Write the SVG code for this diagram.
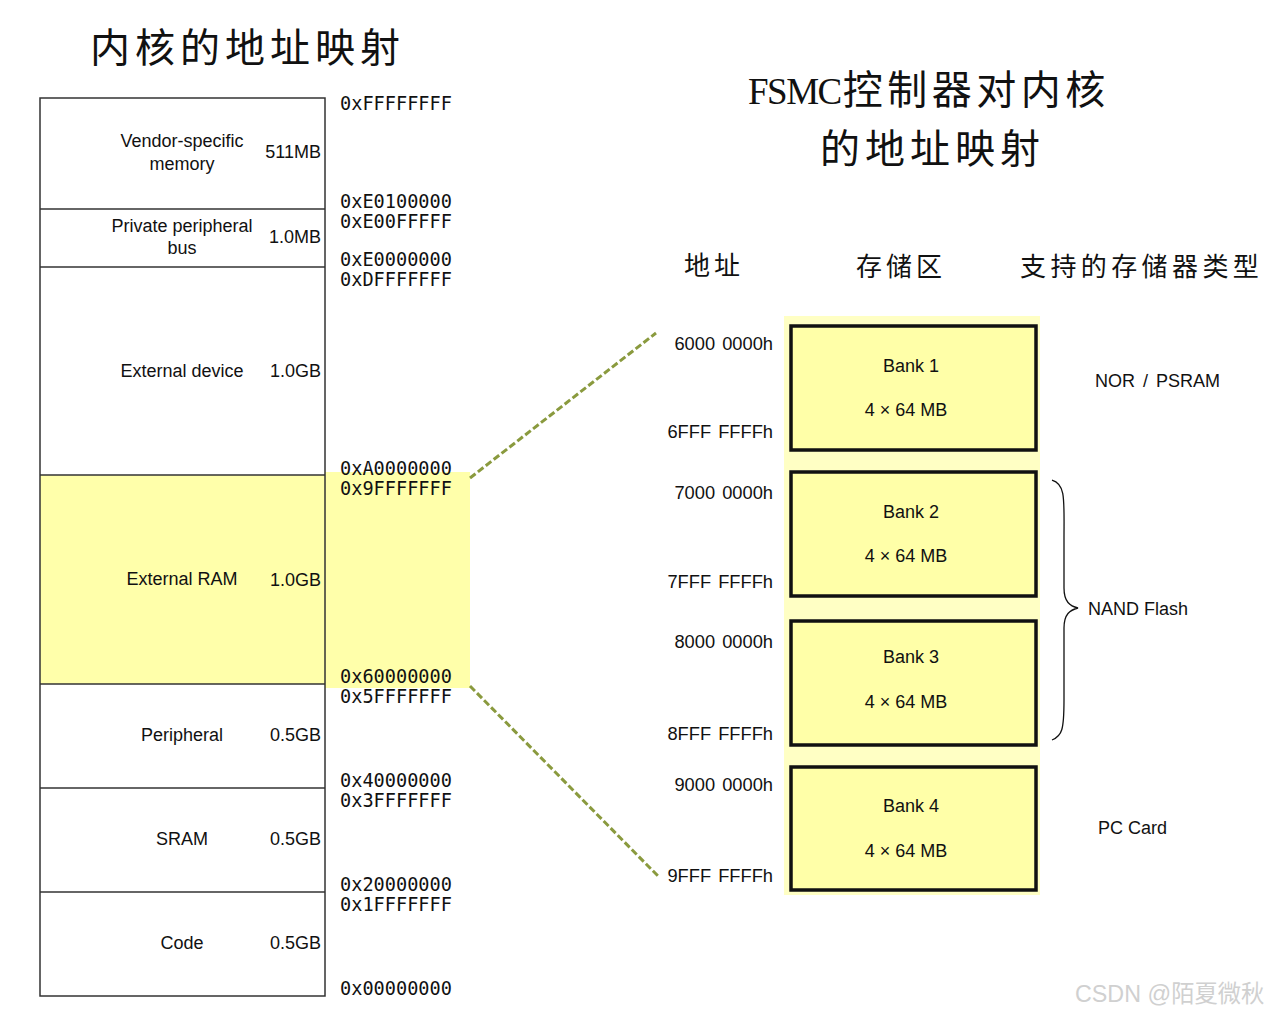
<svg xmlns="http://www.w3.org/2000/svg" width="1268" height="1015" viewBox="0 0 1268 1015">
<style>
.t{font-family:"Liberation Sans",Arial,sans-serif;font-size:18px;fill:#111}
.m{font-family:"DejaVu Sans Mono","Liberation Mono",monospace;font-size:18.6px;fill:#111}
.cjk{font-family:"Noto Sans CJK SC",sans-serif;fill:#111}
.r{text-anchor:end}
.c{text-anchor:middle}
.ra{word-spacing:2px;font-size:18.3px}
.div{stroke:#333;stroke-width:1.3}
.bank{fill:#FFFFA8;stroke:#111;stroke-width:3.5}
.dash{stroke:#8A9A3E;stroke-width:3;stroke-dasharray:7 3;fill:none}
</style>
<rect width="1268" height="1015" fill="#fff"/>

<!-- titles -->
<g id="title-left">
<text class="cjk" x="90" y="62" font-size="40" letter-spacing="5">内核的地址映射</text>
</g>
<g id="title-right">
<text class="cjk" x="748" y="104" font-size="40" letter-spacing="4.5"><tspan font-family="'Liberation Serif',serif" font-size="37" letter-spacing="-1.5">FSMC</tspan><tspan dx="2">控制器对内核</tspan></text>
<text class="cjk" x="820" y="163" font-size="40" letter-spacing="5">的地址映射</text>
</g>
<g id="headers">
<text class="cjk" x="684" y="275" font-size="26" letter-spacing="4">地址</text>
<text class="cjk" x="856" y="276" font-size="26" letter-spacing="4">存储区</text>
<text class="cjk" x="1020" y="276" font-size="26" letter-spacing="4.4">支持的存储器类型</text>
</g>

<!-- left memory map -->
<g id="highlight">
<rect x="40" y="475" width="285" height="209" fill="#FFFFAA"/>
<rect x="325" y="472" width="145" height="216" fill="#FFFFAA"/>
</g>
<g id="memmap">
<rect x="40" y="98" width="285" height="898" fill="none" stroke="#333" stroke-width="1.5"/>
<line class="div" x1="40" y1="209" x2="325" y2="209"/>
<line class="div" x1="40" y1="267" x2="325" y2="267"/>
<line class="div" x1="40" y1="475" x2="325" y2="475"/>
<line class="div" x1="40" y1="684" x2="325" y2="684"/>
<line class="div" x1="40" y1="788" x2="325" y2="788" stroke="#666"/>
<line class="div" x1="40" y1="892" x2="325" y2="892" stroke="#666"/>
</g>
<g id="region-vendor">
<text class="t c" x="182" y="147">Vendor-specific</text>
<text class="t c" x="182" y="170">memory</text>
<text class="t r" x="321" y="158">511MB</text>
</g>
<g id="region-ppb">
<text class="t c" x="182" y="232">Private peripheral</text>
<text class="t c" x="182" y="254">bus</text>
<text class="t r" x="321" y="243">1.0MB</text>
</g>
<g id="region-extdev">
<text class="t c" x="182" y="377">External device</text>
<text class="t r" x="321" y="377">1.0GB</text>
</g>
<g id="region-extram">
<text class="t c" x="182" y="585">External RAM</text>
<text class="t r" x="321" y="586">1.0GB</text>
</g>
<g id="region-periph">
<text class="t c" x="182" y="741">Peripheral</text>
<text class="t r" x="321" y="741">0.5GB</text>
</g>
<g id="region-sram">
<text class="t c" x="182" y="845">SRAM</text>
<text class="t r" x="321" y="845">0.5GB</text>
</g>
<g id="region-code">
<text class="t c" x="182" y="949">Code</text>
<text class="t r" x="321" y="949">0.5GB</text>
</g>
<g id="addresses-left">
<text class="m" x="340" y="110">0xFFFFFFFF</text>
<text class="m" x="340" y="208">0xE0100000</text>
<text class="m" x="340" y="228">0xE00FFFFF</text>
<text class="m" x="340" y="266">0xE0000000</text>
<text class="m" x="340" y="286">0xDFFFFFFF</text>
<text class="m" x="340" y="475">0xA0000000</text>
<text class="m" x="340" y="495">0x9FFFFFFF</text>
<text class="m" x="340" y="683">0x60000000</text>
<text class="m" x="340" y="703">0x5FFFFFFF</text>
<text class="m" x="340" y="787">0x40000000</text>
<text class="m" x="340" y="807">0x3FFFFFFF</text>
<text class="m" x="340" y="891">0x20000000</text>
<text class="m" x="340" y="911">0x1FFFFFFF</text>
<text class="m" x="340" y="995">0x00000000</text>
</g>

<!-- connectors -->
<g id="connectors">
<line class="dash" x1="470" y1="478" x2="656" y2="333"/>
<line class="dash" x1="470" y1="686" x2="658" y2="876"/>
<path d="M1052,480 C1066,484 1064,500 1064,540 L1064,588 C1064,602 1070,606 1078,608 C1070,610 1064,614 1064,628 L1064,700 C1064,730 1062,736 1052,740" fill="none" stroke="#111" stroke-width="1.3"/>
</g>

<!-- FSMC banks -->
<g id="fsmc-area">
<rect x="784" y="316" width="256" height="579" fill="#FFFFC4"/>
</g>
<g id="bank1">
<rect class="bank" x="791" y="326" width="245" height="124"/>
<text class="t c" x="911" y="372">Bank 1</text>
<text class="t c" x="906" y="416">4 × 64 MB</text>
</g>
<g id="bank2">
<rect class="bank" x="791" y="472" width="245" height="124"/>
<text class="t c" x="911" y="518">Bank 2</text>
<text class="t c" x="906" y="562">4 × 64 MB</text>
</g>
<g id="bank3">
<rect class="bank" x="791" y="621" width="245" height="124"/>
<text class="t c" x="911" y="663">Bank 3</text>
<text class="t c" x="906" y="708">4 × 64 MB</text>
</g>
<g id="bank4">
<rect class="bank" x="791" y="767" width="245" height="123"/>
<text class="t c" x="911" y="812">Bank 4</text>
<text class="t c" x="906" y="857">4 × 64 MB</text>
</g>
<g id="addresses-right">
<text class="t r ra" x="773" y="350">6000 0000h</text>
<text class="t r ra" x="773" y="438">6FFF FFFFh</text>
<text class="t r ra" x="773" y="499">7000 0000h</text>
<text class="t r ra" x="773" y="588">7FFF FFFFh</text>
<text class="t r ra" x="773" y="648">8000 0000h</text>
<text class="t r ra" x="773" y="740">8FFF FFFFh</text>
<text class="t r ra" x="773" y="791">9000 0000h</text>
<text class="t r ra" x="773" y="882">9FFF FFFFh</text>
</g>
<g id="types">
<text class="t" x="1095" y="387" word-spacing="3">NOR / PSRAM</text>
<text class="t" x="1088" y="615" font-size="18.8">NAND Flash</text>
<text class="t" x="1098" y="834" font-size="18.5">PC Card</text>
</g>
<g id="watermark">
<text x="1075" y="1002" font-family="'Liberation Sans','Noto Sans CJK SC',sans-serif" font-size="23.3" fill="#d0d0d0">CSDN @陌夏微秋</text>
</g>
</svg>
